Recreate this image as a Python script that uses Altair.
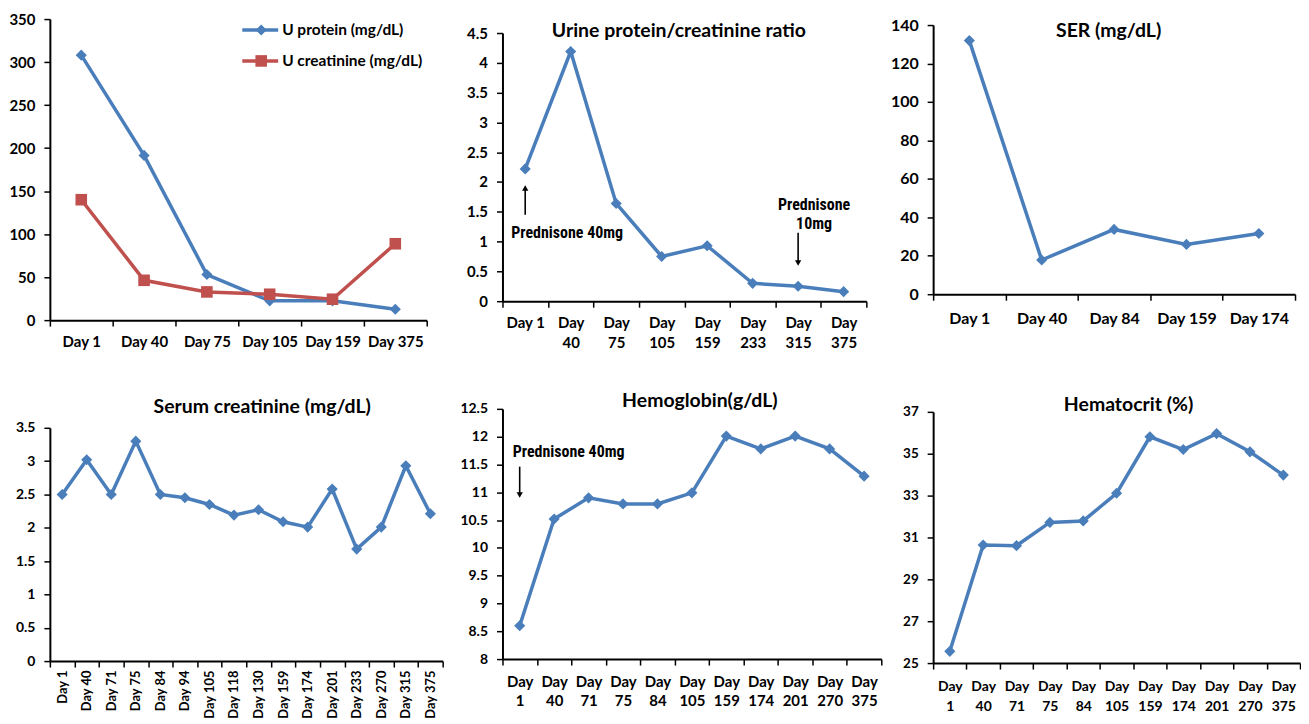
import altair as alt
import pandas as pd

FONT = "Lato"
ANN_FONT = "'Liberation Sans Narrow', 'Arial Narrow', 'Roboto Condensed', 'Liberation Sans', sans-serif"
BLUE = "#4A7EBB"
RED = "#C0504D"

# ---------------- data ----------------
p1_days = ["Day 1", "Day 40", "Day 75", "Day 105", "Day 159", "Day 375"]
p1_series = ["U protein (mg/dL)", "U creatinine (mg/dL)"]
p1_protein = [308, 191.5, 53, 22.4, 22.4, 12.7]
p1_creat = [140, 46.3, 32.8, 30.1, 24.3, 88.8]

p2_days = ["Day 1", "Day|40", "Day|75", "Day|105", "Day|159", "Day|233", "Day|315", "Day|375"]
p2_ratio = [2.22, 4.19, 1.64, 0.75, 0.93, 0.30, 0.25, 0.16]

p3_days = ["Day 1", "Day 40", "Day 84", "Day 159", "Day 174"]
p3_ser = [131.9, 17.8, 33.7, 25.9, 31.6]

p4_days = ["Day 1", "Day 40", "Day 71", "Day 75", "Day 84", "Day 94", "Day 105", "Day 118",
           "Day 130", "Day 159", "Day 174", "Day 201", "Day 233", "Day 270", "Day 315", "Day 375"]
p4_scr = [2.50, 3.02, 2.50, 3.30, 2.50, 2.45, 2.35, 2.19, 2.27, 2.09, 2.01, 2.58, 1.68, 2.01, 2.93, 2.21]

p56_days = ["Day|1", "Day|40", "Day|71", "Day|75", "Day|84", "Day|105", "Day|159", "Day|174",
            "Day|201", "Day|270", "Day|375"]
p5_hb = [8.60, 10.52, 10.90, 10.79, 10.79, 10.99, 12.01, 11.78, 12.01, 11.78, 11.29]
p6_hct = [25.56, 30.64, 30.61, 31.72, 31.79, 33.11, 35.81, 35.20, 35.96, 35.09, 33.98]

# annotations
p2_note_text = ["Prednisone 40mg", "Prednisone\n10mg"]
p2_note_day = ["Day 1", "Day|315"]
p2_note_y = [1.15, 1.61]
p2_arrow_from = [1.45, 1.15]
p2_arrow_to = [1.90, 0.64]
p2_arrow_dir = ["up", "down"]

p5_note_text = ["Prednisone 40mg"]
p5_note_day = ["Day|1"]
p5_note_y = [11.73]
p5_arrow_from = [11.46]
p5_arrow_to = [10.95]

# ---------------- helpers ----------------
def axis_y(values, fmt, size):
    return alt.Axis(values=values, format=fmt, grid=False, domainColor="black", domainWidth=2,
                    tickColor="black", tickWidth=1.5, tickSize=6, labelPadding=9,
                    labelFont=FONT, labelFontWeight="bold", labelFontSize=size,
                    labelColor="black", title=None)


def axis_x(offset, multiline=False, angle=0, size=15, pad=8):
    kw = dict(tickBand="extent", labelAngle=angle, domainColor="black", domainWidth=2,
              tickColor="black", tickWidth=1.5, tickSize=6, labelPadding=pad, offset=offset,
              labelFont=FONT, labelFontWeight="bold", labelFontSize=size,
              labelColor="black", title=None, grid=False)
    if multiline:
        kw["labelExpr"] = "split(datum.label, '|')"
        kw["labelLineHeight"] = 20
    return alt.Axis(**kw)


def enc_x(days, xrange, offset, **axkw):
    return alt.X("day:N", sort=days,
                 scale=alt.Scale(type="band", domain=days, paddingInner=0, paddingOuter=0,
                                 range=xrange),
                 axis=axis_x(offset, **axkw))


def enc_y(dom, ticks, fmt, yrange, size):
    return alt.Y("v:Q", scale=alt.Scale(domain=dom, nice=False, zero=False, range=yrange),
                 axis=axis_y(ticks, fmt, size))


def series_layers(days, vals, x, y, color, shape, size):
    df = pd.DataFrame({"day": days, "v": vals})
    base = alt.Chart(df).encode(x=x, y=y)
    return [base.mark_line(color=color, strokeWidth=3.5),
            base.mark_point(shape=shape, filled=True, color=color, size=size, opacity=1)]


def note_layers(x, y, days, texts, ys, afrom, ato, dirs, dx):
    tdf = pd.DataFrame({"day": days, "v": ys, "t": texts})
    layers = []
    for i in range(len(days)):
        row = tdf.iloc[[i]]
        layers.append(alt.Chart(row).mark_text(
            align="left" if dx[i] < 0 else "center", baseline="middle", dx=dx[i],
            font=ANN_FONT, fontSize=16, fontWeight="bold", color="black",
            lineBreak="\n", lineHeight=19).encode(x=x, y=y, text="t:N"))
    adf = pd.DataFrame({"day": days, "v": afrom, "v2": ato, "dir": dirs})
    layers.append(alt.Chart(adf).mark_rule(color="black", strokeWidth=1.6).encode(
        x=x, y=y, y2="v2:Q"))
    for d, shp in (("up", "triangle-up"), ("down", "triangle-down")):
        sub = adf[adf["dir"] == d]
        if len(sub):
            hdf = pd.DataFrame({"day": sub["day"], "v": sub["v2"]})
            layers.append(alt.Chart(hdf).mark_point(shape=shp, filled=True, color="black",
                                                    size=40, opacity=1).encode(x=x, y=y))
    return layers


def titled(ch, text, offset, dx):
    return ch.properties(title=alt.TitleParams(text, offset=offset, dx=dx, frame="group",
                                               anchor="middle", font=FONT, fontSize=19.5,
                                               fontWeight="bold", color="black"))

DIAMOND = 125
SQUARE = 135

# cell sizes of the 3x2 grid
W1, W2, W3 = 434, 412, 368
H1, H2 = 371, 255

# ---------------- panel 1 ----------------
x1 = enc_x(p1_days, [0, 378], -69, size=15)
y1 = enc_y([0, 350], [0, 50, 100, 150, 200, 250, 300, 350], "d", [302, 0], 15)
l1 = series_layers(p1_days, p1_protein, x1, y1, BLUE, "diamond", DIAMOND) + \
     series_layers(p1_days, p1_creat, x1, y1, RED, "square", SQUARE)
leg = []
for i, (name, col, shp, sz) in enumerate(zip(p1_series, [BLUE, RED], ["diamond", "square"],
                                             [DIAMOND, SQUARE])):
    ldf = pd.DataFrame({"name": [name]})
    yy = 11 + 31 * i
    leg.append(alt.Chart(ldf).mark_rule(color=col, strokeWidth=3.5).encode(
        x=alt.value(193), x2=alt.value(229), y=alt.value(yy)))
    leg.append(alt.Chart(ldf).mark_point(shape=shp, filled=True, color=col, size=sz, opacity=1).encode(
        x=alt.value(212), y=alt.value(yy)))
    leg.append(alt.Chart(ldf).mark_text(align="left", baseline="middle", font=FONT, fontSize=15.5,
                                        fontWeight="bold", color="black").encode(
        x=alt.value(233), y=alt.value(yy), text="name:N"))
panel1 = alt.layer(*l1, *leg).properties(width=W1, height=H1)

# ---------------- panel 2 ----------------
x2 = enc_x(p2_days, [0, 365], -88, multiline=True, size=15)
y2 = enc_y([0, 4.5], [0, 0.5, 1, 1.5, 2, 2.5, 3, 3.5, 4, 4.5], ".1~f", [283, 14], 15)
l2 = series_layers(p2_days, p2_ratio, x2, y2, BLUE, "diamond", DIAMOND)
n2 = note_layers(x2, y2, p2_note_day, p2_note_text, p2_note_y, p2_arrow_from, p2_arrow_to,
                 p2_arrow_dir, [-14, 16])
panel2 = titled(alt.layer(*l2, *n2).properties(width=W2, height=H1),
                "Urine protein/creatinine ratio", -22, -29)

# ---------------- panel 3 ----------------
x3 = enc_x(p3_days, [0, 363], -95, size=16, pad=10)
y3 = enc_y([0, 140], [0, 20, 40, 60, 80, 100, 120, 140], "d", [276, 6], 16)
panel3 = titled(alt.layer(*series_layers(p3_days, p3_ser, x3, y3, BLUE, "diamond", DIAMOND)).properties(
    width=W3, height=H1), "SER (mg/dL)", -24, -8)

# ---------------- panel 4 ----------------
x4 = enc_x(p4_days, [0, 394], -2, angle=-90, size=13, pad=3)
y4 = enc_y([0, 3.5], [0, 0.5, 1, 1.5, 2, 2.5, 3, 3.5], ".1~f", [253, 19], 14)
panel4 = titled(alt.layer(*series_layers(p4_days, p4_scr, x4, y4, BLUE, "diamond", DIAMOND)).properties(
    width=W1, height=H2), "Serum creatinine (mg/dL)", -9, -4)

# ---------------- panel 5 ----------------
x5 = enc_x(p56_days, [0, 380], -4, multiline=True, size=15, pad=9)
y5 = enc_y([8, 12.5], [8, 8.5, 9, 9.5, 10, 10.5, 11, 11.5, 12, 12.5], ".1~f", [251, 0], 14)
l5 = series_layers(p56_days, p5_hb, x5, y5, BLUE, "diamond", DIAMOND)
n5 = note_layers(x5, y5, p5_note_day, p5_note_text, p5_note_y, p5_arrow_from, p5_arrow_to,
                 ["down"], [-7])
panel5 = titled(alt.layer(*l5, *n5).properties(width=W2, height=H2), "Hemoglobin(g/dL)", -10, -8)

# ---------------- panel 6 ----------------
x6 = enc_x(p56_days, [0, 368], 0, multiline=True, size=14, pad=11)
y6 = enc_y([25, 37], [25, 27, 29, 31, 33, 35, 37], "d", [255, 3], 13.5)
panel6 = titled(alt.layer(*series_layers(p56_days, p6_hct, x6, y6, BLUE, "diamond", DIAMOND)).properties(
    width=W3, height=H2), "Hematocrit (%)", -11, 12)

# ---------------- layout ----------------
chart = alt.concat(panel1, panel2, panel3, panel4, panel5, panel6, columns=3, spacing=20,
                   bounds="flush", align="each").properties(
    padding={"left": 0, "top": 3, "right": 0, "bottom": 0},
    background="white",
).configure_view(stroke=None)

chart.save("out.html", embed_options={"renderer": "svg", "actions": False})
